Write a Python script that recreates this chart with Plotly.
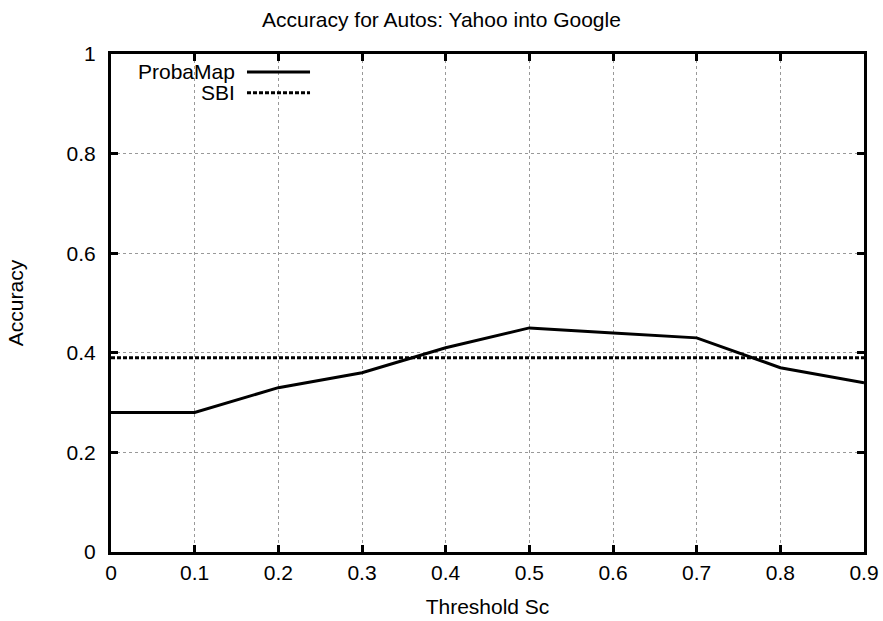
import plotly.graph_objects as go

thresholds = [0, 0.1, 0.2, 0.3, 0.4, 0.5, 0.6, 0.7, 0.8, 0.9]
probamap = [0.28, 0.28, 0.33, 0.36, 0.41, 0.45, 0.44, 0.43, 0.37, 0.34]
sbi = [0.39] * len(thresholds)
x_ticks = [0, 0.1, 0.2, 0.3, 0.4, 0.5, 0.6, 0.7, 0.8, 0.9]
x_tick_labels = ["0", "0.1", "0.2", "0.3", "0.4", "0.5", "0.6", "0.7", "0.8", "0.9"]
y_ticks = [0, 0.2, 0.4, 0.6, 0.8, 1]
y_tick_labels = ["0", "0.2", "0.4", "0.6", "0.8", "1"]

FONT = "Liberation Sans, Arial, sans-serif"
FS = 21

fig = go.Figure()
fig.add_trace(go.Scatter(x=thresholds, y=probamap, mode="lines", name="ProbaMap",
                         line=dict(color="black", width=3), showlegend=False))
fig.add_trace(go.Scatter(x=thresholds, y=sbi, mode="lines", name="SBI",
                         line=dict(color="black", width=3, dash="4px,2px"), showlegend=False))

axis_common = dict(
    showline=True, linecolor="black", linewidth=3, mirror="ticks",
    ticks="inside", ticklen=7, tickwidth=3, tickcolor="black",
    showgrid=True, gridcolor="#999999", gridwidth=1, griddash="dot",
    zeroline=False, automargin=False,
    tickfont=dict(family=FONT, size=FS, color="black"),
)

fig.update_xaxes(range=[0, 0.9], tickvals=x_ticks, ticktext=x_tick_labels,
                 title=dict(text="Threshold Sc", font=dict(family=FONT, size=FS, color="black"), standoff=17),
                 **axis_common)
fig.update_yaxes(range=[0, 1], tickvals=y_ticks, ticktext=y_tick_labels, ticklabelstandoff=8,
                 title=dict(text="Accuracy", font=dict(family=FONT, size=FS, color="black"), standoff=38),
                 **axis_common)

# gnuplot-style legend: right-aligned text, line sample to the right
legend_items = [("ProbaMap", dict(color="black", width=3)),
                ("SBI", dict(color="black", width=3, dash="4px,2px"))]
for i, (label, ln) in enumerate(legend_items):
    yp = 0.964 - i * 0.042
    fig.add_annotation(xref="paper", yref="paper", x=0.1647, y=yp, text=label, showarrow=False,
                       xanchor="right", yanchor="middle", xshift=2,
                       font=dict(family=FONT, size=FS, color="black"))
    fig.add_shape(type="line", xref="paper", yref="paper", x0=0.1806, x1=0.2643, y0=yp, y1=yp,
                  line=ln)

fig.update_layout(
    width=883, height=621,
    margin=dict(l=111, r=19, t=54, b=69),
    paper_bgcolor="white", plot_bgcolor="white",
    title=dict(text="Accuracy for Autos: Yahoo into Google", x=0.5, xref="container",
               y=1 - 20 / 621, yref="container", xanchor="center", yanchor="middle",
               font=dict(family=FONT, size=FS, color="black")),
    showlegend=False,
)

fig.write_html("out.html", config={"displayModeBar": False},
               post_script="document.body.style.margin='0';")
